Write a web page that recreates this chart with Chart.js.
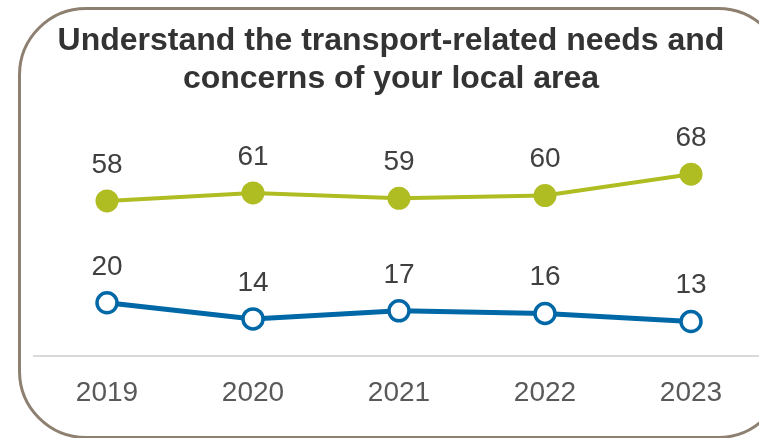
<!DOCTYPE html>
<html>
<head>
<meta charset="utf-8">
<script src="https://cdn.jsdelivr.net/npm/chart.js@4.4.1/dist/chart.umd.min.js"></script>
<style>
  html, body { margin: 0; padding: 0; background: #fff; overflow: hidden; }
  #wrap { position: relative; width: 782px; height: 438px; }
  #frame {
    position: absolute; left: 18px; top: 7px; width: 762px; height: 426px;
    border: 3px solid #8e8070; border-radius: 68px; box-sizing: content-box;
    pointer-events: none;
  }
  #chartContainer { position: absolute; left: 0; top: 0; width: 782px; height: 438px; }
</style>
</head>
<body>
<div id="wrap">
  <div id="chartContainer"><canvas id="myChart"></canvas></div>
  <div id="frame"></div>
</div>
<script>
const years = ['2019', '2020', '2021', '2022', '2023'];
const upperSeries = [58, 61, 59, 60, 68];
const lowerSeries = [20, 14, 17, 16, 13];
const titleLines = ['Understand the transport-related needs and', 'concerns of your local area'];

const green = '#afbd22';
const blue = '#0068a6';
const fontFamily = '"Liberation Sans", Arial, sans-serif';

// heading, centred on the framed panel rather than the plot area
const panelTitle = {
  id: 'panelTitle',
  afterDraw(chart) {
    const ctx = chart.ctx;
    ctx.save();
    ctx.font = 'bold 32px ' + fontFamily;
    ctx.fillStyle = '#333333';
    ctx.textAlign = 'center';
    ctx.textBaseline = 'middle';
    titleLines.forEach((line, i) => ctx.fillText(line, 391, 41 + i * 38));
    ctx.restore();
  }
};

// value labels above each point
const pointLabels = {
  id: 'pointLabels',
  afterDatasetsDraw(chart) {
    const ctx = chart.ctx;
    ctx.save();
    ctx.font = '28px ' + fontFamily;
    ctx.fillStyle = '#404040';
    ctx.textAlign = 'center';
    ctx.textBaseline = 'middle';
    chart.data.datasets.forEach((ds, i) => {
      chart.getDatasetMeta(i).data.forEach((pt, j) => {
        ctx.fillText(String(ds.data[j]), pt.x, pt.y - 36);
      });
    });
    ctx.restore();
  }
};

const ctx = document.getElementById('myChart').getContext('2d');
new Chart(ctx, {
  type: 'line',
  data: {
    labels: years,
    datasets: [
      {
        data: upperSeries,
        borderColor: green,
        backgroundColor: green,
        borderWidth: 4,
        pointRadius: 11.5,
        pointBorderWidth: 0,
        pointBackgroundColor: green,
        tension: 0
      },
      {
        data: lowerSeries,
        borderColor: blue,
        backgroundColor: '#fff',
        borderWidth: 5,
        pointRadius: 10,
        pointBorderWidth: 3.5,
        pointBorderColor: blue,
        pointBackgroundColor: '#fff',
        tension: 0
      }
    ]
  },
  options: {
    responsive: true,
    maintainAspectRatio: false,
    animation: false,
    layout: { padding: { left: 34, right: 18, top: 142, bottom: 8 } },
    plugins: {
      legend: { display: false },
      tooltip: { enabled: false },
      title: { display: false }
    },
    scales: {
      x: {
        offset: true,
        grid: { display: false, drawTicks: false },
        border: { display: true, color: '#d9d9d9', width: 2 },
        ticks: {
          color: '#595959',
          padding: 20,
          font: { family: fontFamily, size: 28 }
        }
      },
      y: {
        display: false,
        min: 0,
        max: 80
      }
    }
  },
  plugins: [pointLabels, panelTitle]
});
</script>
</body>
</html>
